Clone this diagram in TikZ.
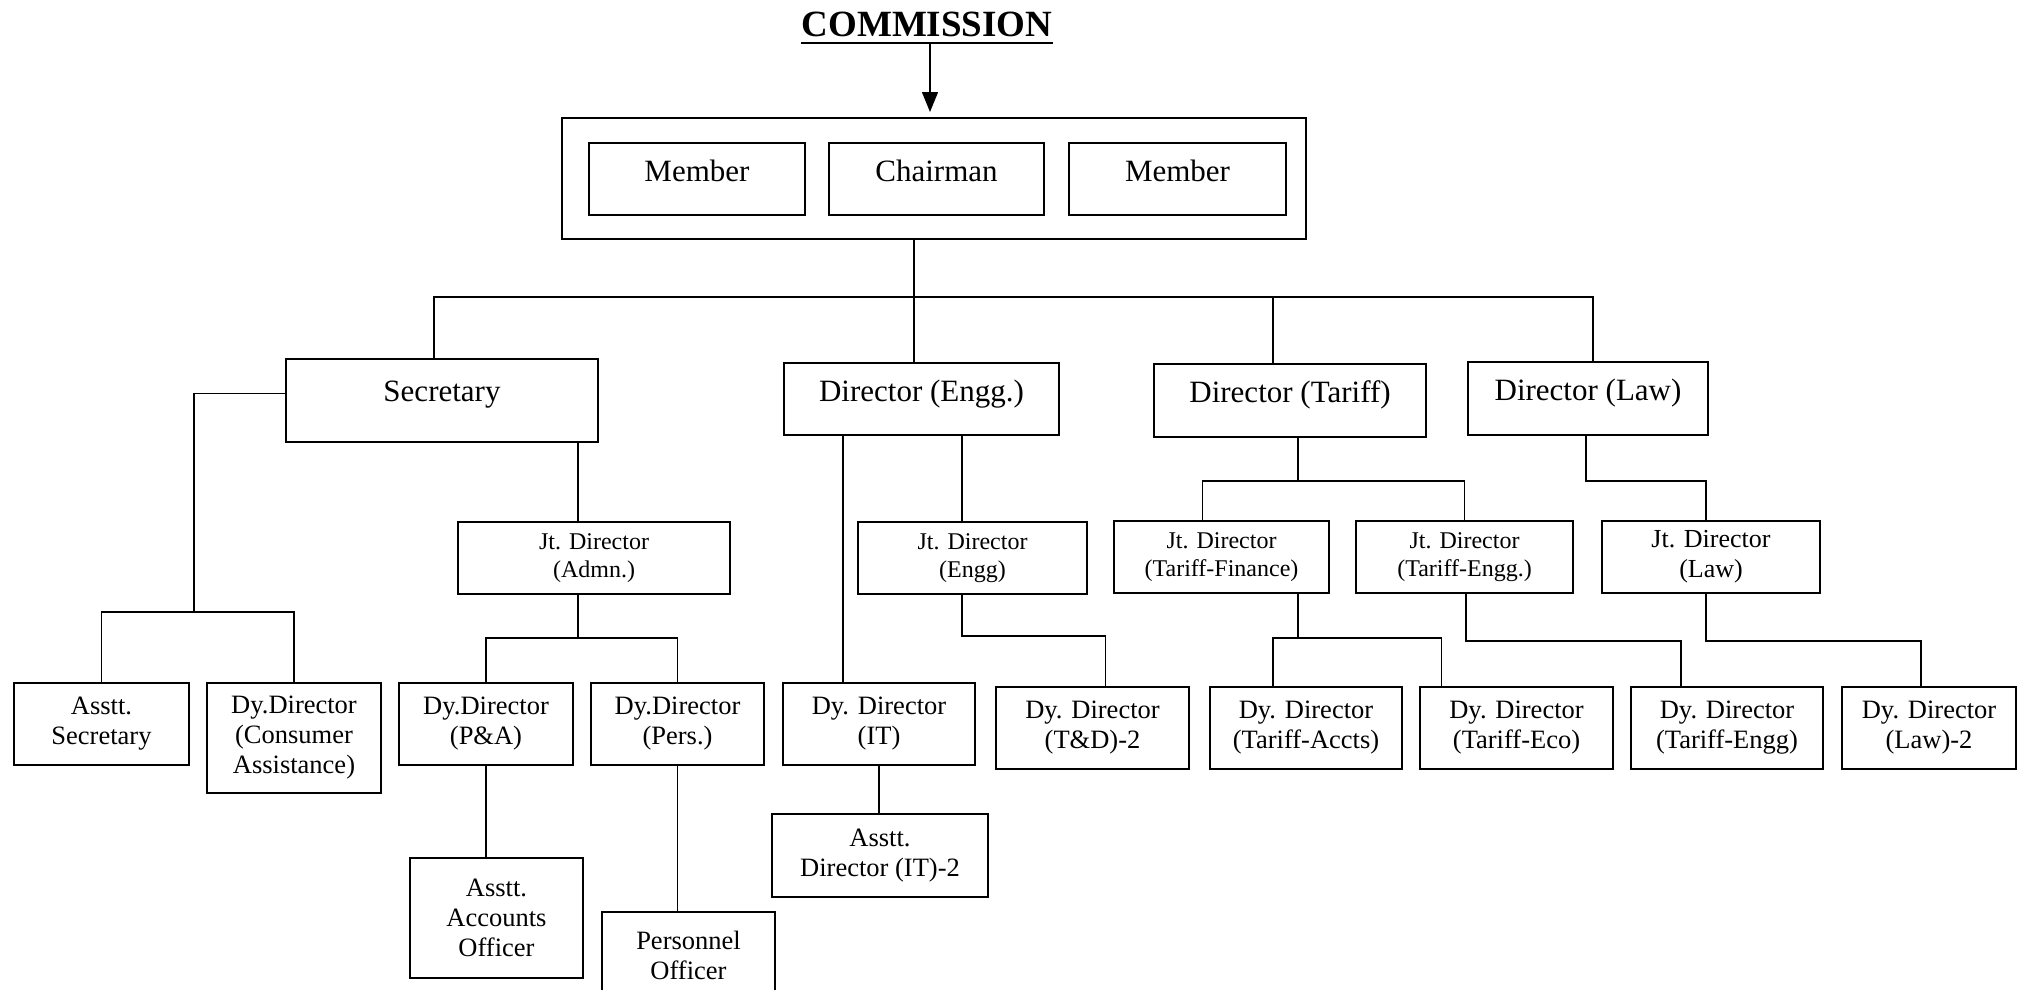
\documentclass[tikz,border=0pt]{standalone}
\usepackage{fontspec}
\setmainfont{Liberation Serif}
\usetikzlibrary{arrows.meta}

\begin{document}
\begin{tikzpicture}[x=1pt,y=-1pt,
	box/.style={draw,line width=1.6pt,inner sep=0pt,align=center},
	head/.style={box,font=\fontsize{31}{36}\selectfont,text height=0.7em,text depth=0.3em},
	jt/.style={box,minimum height=72pt,font=\fontsize{24}{28}\selectfont,execute at begin node={\rule{0pt}{1.1em}}},
	dy/.style={box,minimum height=82pt,font=\fontsize{26.5}{30}\selectfont},
	link/.style={line width=1.4pt}]
	\useasboundingbox (0,0) rectangle (2018,990);
	\clip (0,0) rectangle (2018,990);

	% top
	\node[inner sep=0pt,anchor=base,font=\fontsize{37}{40}\selectfont\bfseries] (title) at (927,37) {COMMISSION};
	\draw[line width=2.8pt] ([yshift=-6pt]title.base west) -- ([yshift=-6pt]title.base east) coordinate (uline);
	\coordinate (tip) at (930,112);
	\draw[link,-{Triangle[length=20pt,width=16pt]}] (uline -| tip) -- (tip);

	\node[box,minimum width=744pt,minimum height=121pt] (board) at (934,178.5) {};
	\node[head,minimum width=216pt,minimum height=72pt] (mem1) at (697,179) {Member};
	\node[head,minimum width=215pt,minimum height=72pt] (chair) at (936.5,179) {Chairman};
	\node[head,minimum width=217pt,minimum height=72pt] (mem2) at (1177.5,179) {Member};

	% directors
	\node[head,minimum width=312pt,minimum height=83pt,text depth=0.6em] (sec) at (442,400.5) {Secretary};
	\node[head,minimum width=275pt,minimum height=72pt] (engg) at (921.5,399) {Director (Engg.)};
	\node[head,minimum width=272pt,minimum height=73pt] (tariff) at (1290,400.5) {Director (Tariff)};
	\node[head,minimum width=240pt,minimum height=73pt] (law) at (1588,398.5) {Director (Law)};

	\coordinate (bus) at (914,297);
	\coordinate (secx) at (434,297);
	\coordinate (tarx) at (1273,297);
	\coordinate (lawx) at (1593,297);
	\draw[link] (board.south -| bus) -- (engg.north -| bus);
	\draw[link] (secx |- sec.north) -- (secx) -- (lawx) -- (lawx |- law.north);
	\draw[link] (tarx) -- (tarx |- tariff.north);

	% joint directors
	\node[jt,minimum width=272pt] (jtadmn) at (594,558) {Jt. Director\\(Admn.)};
	\node[jt,minimum width=229pt] (jtengg) at (972.5,558) {Jt. Director\\(Engg)};
	\node[jt,minimum width=215pt] (jtfin) at (1221.5,557) {Jt. Director\\(Tariff-Finance)};
	\node[jt,minimum width=217pt] (jtteng) at (1464.5,557) {Jt. Director\\(Tariff-Engg.)};
	\node[jt,minimum width=218pt,font=\fontsize{26}{30}\selectfont] (jtlaw) at (1711,557) {Jt. Director\\(Law)};

	% deputy directors
	\node[dy,minimum width=175pt] (asstsec) at (101.5,724) {Asstt.\\Secretary};
	\node[dy,minimum width=174pt,minimum height=110pt] (consumer) at (294,738) {Dy.Director\\(Consumer\\Assistance)};
	\node[dy,minimum width=174pt] (pa) at (486,724) {Dy.Director\\(P\&A)};
	\node[dy,minimum width=173pt] (pers) at (677.5,724) {Dy.Director\\(Pers.)};
	\node[dy,minimum width=192pt] (itdy) at (879,724) {Dy. Director\\(IT)};
	\node[dy,minimum width=193pt] (td2) at (1092.5,728) {Dy. Director\\(T\&D)-2};
	\node[dy,minimum width=192pt] (tacc) at (1306,728) {Dy. Director\\(Tariff-Accts)};
	\node[dy,minimum width=193pt] (teco) at (1516.5,728) {Dy. Director\\(Tariff-Eco)};
	\node[dy,minimum width=192pt] (teng) at (1727,728) {Dy. Director\\(Tariff-Engg)};
	\node[dy,minimum width=174pt] (law2) at (1929,728) {Dy. Director\\(Law)-2};

	% officers
	\node[dy,minimum width=173pt,minimum height=120pt] (aao) at (496.5,918) {Asstt.\\Accounts\\Officer};
	\node[dy,minimum width=173pt,minimum height=86pt] (persoff) at (688.5,955) {Personnel\\Officer};
	\node[dy,minimum width=216pt,minimum height=83pt] (ait2) at (880,855.5) {Asstt.\\Director (IT)-2};

	% secretary side
	\coordinate (secfork) at (194,612);
	\draw[link] ([yshift=7pt]sec.west) -| (secfork);
	\draw[link] (asstsec.north) |- (secfork) -| (consumer.north);
	\coordinate (admfork) at (578,638);
	\draw[link] (admfork |- sec.south) -- (admfork |- jtadmn.north);
	\draw[link] (admfork |- jtadmn.south) -- (admfork);
	\draw[link] (pa.north) |- (admfork) -| (pers.north);
	\draw[link] (pa.south) -- (pa.south |- aao.north);
	\draw[link] (pers.south) -- (pers.south |- persoff.north);

	% engg side
	\coordinate (itx) at (843,0);
	\coordinate (engfork) at (962,636);
	\draw[link] (itx |- engg.south) -- (itx |- itdy.north);
	\draw[link] (itdy.south) -- (itdy.south |- ait2.north);
	\draw[link] (engfork |- engg.south) -- (engfork |- jtengg.north);
	\draw[link] (engfork |- jtengg.south) -- (engfork) -| ([xshift=13pt]td2.north);

	% tariff and law side
	\coordinate (tarfork) at (1298,481);
	\coordinate (lawfork) at (1586,481);
	\draw[link] (tarfork |- tariff.south) -- (tarfork);
	\draw[link] ([xshift=-19pt]jtfin.north) |- (tarfork) -| (jtteng.north);
	\draw[link] (lawfork |- law.south) -- (lawfork) -| ([xshift=-5pt]jtlaw.north);

	\coordinate (finfork) at (1298,638);
	\coordinate (tengfork) at (1466,641);
	\coordinate (jlawfork) at (1706,641);
	\draw[link] (finfork |- jtfin.south) -- (finfork);
	\draw[link] ([xshift=-33pt]tacc.north) |- (finfork) -| ([xshift=-75pt]teco.north);
	\draw[link] (tengfork |- jtteng.south) -- (tengfork) -| ([xshift=-46pt]teng.north);
	\draw[link] (jlawfork |- jtlaw.south) -- (jlawfork) -| ([xshift=-8pt]law2.north);
\end{tikzpicture}
\end{document}
